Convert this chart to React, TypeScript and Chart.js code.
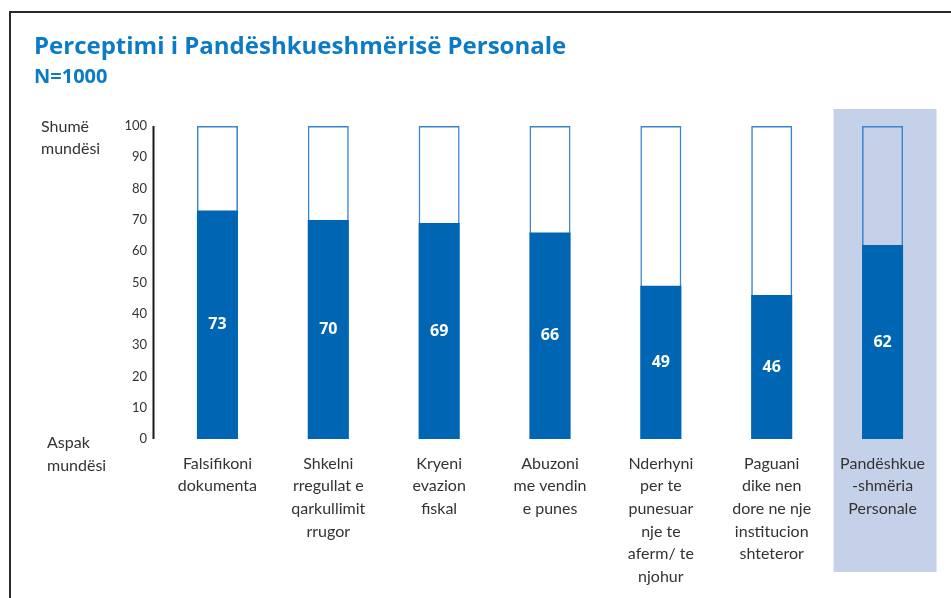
import React, { useEffect, useRef } from "react";
import { Chart, registerables } from "chart.js";

Chart.register(...registerables);

const categories: string[][] = [
  ["Falsifikoni", "dokumenta"],
  ["Shkelni", "rregullat e", "qarkullimit", "rrugor"],
  ["Kryeni", "evazion", "fiskal"],
  ["Abuzoni", "me vendin", "e punes"],
  ["Nderhyni", "per te", "punesuar", "nje te", "aferm/ te", "njohur"],
  ["Paguani", "dike nen", "dore ne nje", "institucion", "shteteror"],
  ["Pandëshkue", "-shmëria", "Personale"],
];
const values: number[] = [73, 70, 69, 66, 49, 46, 62];
const maxValues: number[] = [100, 100, 100, 100, 100, 100, 100];
const highlightIndex = 6;

const DARK = "#0065b2";
const OUTLINE = "#3b84cf";
const HILITE = "#c5d1e9";
const TEXT = "#333333";

const overlayPlugin = {
  id: "overlay",
  beforeDraw(chart: any) {
    const { ctx } = chart;
    const xs = chart.scales.x;
    const cx = xs.getPixelForValue(highlightIndex);
    ctx.save();
    ctx.fillStyle = HILITE;
    ctx.fillRect(cx - 49, 109, 103, 463);
    ctx.restore();
  },
  beforeDatasetsDraw(chart: any) {
    const { ctx, chartArea } = chart;
    // y axis line
    ctx.save();
    ctx.strokeStyle = "#1a1a1a";
    ctx.lineWidth = 2;
    ctx.beginPath();
    ctx.moveTo(chartArea.left - 8.5, chartArea.top);
    ctx.lineTo(chartArea.left - 8.5, chartArea.bottom);
    ctx.stroke();
    // side labels
    ctx.fillStyle = TEXT;
    ctx.font = "16px Lato, sans-serif";
    ctx.textAlign = "left";
    ctx.textBaseline = "middle";
    ctx.fillText("Shumë", 41, 127);
    ctx.fillText("mundësi", 41, 149);
    ctx.fillText("Aspak", 47, 443);
    ctx.fillText("mundësi", 47, 466);
    ctx.restore();
  },
  afterDatasetsDraw(chart: any) {
    const { ctx } = chart;
    const meta = chart.getDatasetMeta(0);
    ctx.save();
    ctx.fillStyle = "#ffffff";
    ctx.font = "bold 16px 'Open Sans', sans-serif";
    ctx.textAlign = "center";
    ctx.textBaseline = "middle";
    meta.data.forEach((bar: any, i: number) => {
      const y = (bar.y + bar.base) / 2;
      ctx.fillText(String(values[i]), bar.x, y);
    });
    ctx.restore();
  },
};

export default function App() {
  const ref = useRef<HTMLCanvasElement>(null);
  useEffect(() => {
    if (!ref.current) return;
    const chart = new Chart(ref.current, {
      type: "bar",
      data: {
        labels: categories,
        datasets: [
          {
            data: values,
            backgroundColor: DARK,
            borderWidth: 0,
            barPercentage: 0.37,
            categoryPercentage: 1,
          },
          {
            data: maxValues,
            backgroundColor: "rgba(0,0,0,0)",
            borderColor: OUTLINE,
            borderWidth: 1.5,
            barPercentage: 0.37,
            categoryPercentage: 1,
          },
        ],
      },
      options: {
        animation: false,
        responsive: false,
        maintainAspectRatio: false,
        layout: { padding: { left: 0, right: 13, top: 126, bottom: 0 } },
        plugins: {
          legend: { display: false },
          tooltip: { enabled: false },
          title: { display: false },
        },
        scales: {
          x: {
            stacked: true,
            grid: { display: false, drawTicks: false },
            border: { display: false },
            ticks: {
              color: TEXT,
              font: { family: "Lato, sans-serif", size: 16, lineHeight: 1.42 },
              padding: 13,
              maxRotation: 0,
              autoSkip: false,
            },
            afterFit: (s: any) => {
              s.height = 159;
            },
          },
          y: {
            stacked: false,
            min: 0,
            max: 100,
            grid: { display: false, drawTicks: false },
            border: { display: false },
            ticks: {
              stepSize: 10,
              color: TEXT,
              font: { family: "Lato, sans-serif", size: 13 },
              padding: 15,
            },
            afterFit: (s: any) => {
              s.width = 162;
            },
          },
        },
      },
      plugins: [overlayPlugin],
    });
    return () => chart.destroy();
  }, []);

  return (
    <div style={{ position: "absolute", left: 0, top: 0, width: 951, height: 598, overflow: "hidden", background: "#fff" }}>
      <div
        style={{
          position: "absolute",
          left: 9,
          top: 11,
          width: 960,
          height: 620,
          border: "2.5px solid #2a2a2a",
          boxSizing: "border-box",
        }}
      />
      <canvas ref={ref} width={951} height={598} style={{ position: "absolute", left: 0, top: 0 }} />
      <div
        style={{
          position: "absolute",
          left: 34,
          top: 28,
          fontFamily: "'Open Sans', sans-serif",
          fontWeight: 700,
          fontSize: 24,
          color: "#0a7bc4",
          whiteSpace: "nowrap",
          lineHeight: "34px",
        }}
      >
        Perceptimi i Pandëshkueshmërisë Personale
      </div>
      <div
        style={{
          position: "absolute",
          left: 34,
          top: 61,
          fontFamily: "'Open Sans', sans-serif",
          fontWeight: 700,
          fontSize: 20,
          color: "#0a7bc4",
          whiteSpace: "nowrap",
          lineHeight: "30px",
        }}
      >
        N=1000
      </div>
    </div>
  );
}
